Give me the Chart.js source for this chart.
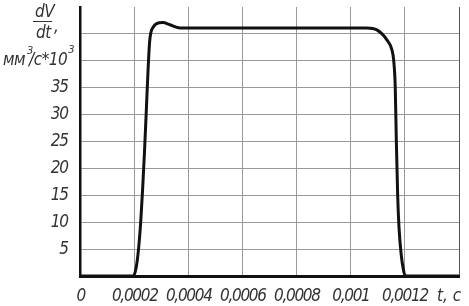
<!DOCTYPE html>
<html>
<head>
<meta charset="utf-8">
<script src="https://cdn.jsdelivr.net/npm/chart.js@4/dist/chart.umd.min.js"></script>
<style>
  html, body { margin: 0; padding: 0; background: #fff; }
  #wrap { width: 469px; height: 306px; }
</style>
</head>
<body>
<div id="wrap"><canvas id="flowChart"></canvas></div>
<script>
const FONT = "'Liberation Sans Narrow', 'DejaVu Sans Condensed', sans-serif"
const SPACING = '-1.3px'

// время, с
const timeS = [0, 0.000195, 0.000205, 0.000214, 0.000222, 0.000229, 0.000236, 0.000243,
  0.000249, 0.000255, 0.00026, 0.000269, 0.000281, 0.000304, 0.00033, 0.000368, 0.0006, 0.0008,
  0.001059, 0.001096, 0.001133, 0.001152, 0.001158, 0.001164, 0.001168, 0.001173, 0.001178,
  0.001186, 0.001195, 0.001201, 0.0013, 0.0014]
// dV/dt, мм3/с*10^3
const flowRate = [0, 0, 1.5, 5, 10, 16, 23, 31,
  38, 43.5, 45.3, 46.3, 46.9, 47.1, 46.7, 46.1, 46.1, 46.1,
  46.1, 45.75, 43.9, 42, 40.2, 35.2, 25.3, 15, 9,
  4, 1, 0, 0, 0]

const yTicksShown = [5, 10, 15, 20, 25, 30, 35]
const xTickLabels = ['0', '0,0002', '0,0004', '0,0006', '0,0008', '0,001', '0,0012', '']

// узкий шрифт: поджимаем межбуквенный интервал
const narrowText = {
  id: 'narrowText',
  beforeDraw(chart) { chart.ctx.letterSpacing = SPACING }
}

const axisTitle = {
  id: 'axisTitle',
  afterDraw(chart) {
    const c = chart.ctx
    c.save()
    c.letterSpacing = '-0.5px'
    c.fillStyle = '#333'
    c.strokeStyle = '#333'
    c.textBaseline = 'alphabetic'
    c.textAlign = 'left'
    const big = 'italic 17px ' + FONT
    const small = 'italic 11px ' + FONT
    c.font = big
    c.fillText('dV', 35, 17)
    c.fillText('dt', 36, 38)
    c.fillText(',', 54, 32)
    c.beginPath()
    c.lineWidth = 1
    c.moveTo(33, 21.5)
    c.lineTo(52, 21.5)
    c.stroke()
    // мм³/с*10³
    let x = 3
    c.fillText('мм', x, 65)
    x += c.measureText('мм').width + 2
    c.font = small
    c.fillText('3', x, 54)
    x += 2
    c.font = big
    c.fillText('/с*10', x, 65)
    x += c.measureText('/с*10').width + 1
    c.font = small
    c.fillText('3', x, 53)
    // подпись оси времени
    c.font = big
    c.letterSpacing = '0px'
    c.fillText('t, c', 437, 301)
    c.restore()
  }
}

const ctx = document.getElementById('flowChart').getContext('2d')

new Chart(ctx, {
  type: 'line',
  data: {
    datasets: [{
      data: timeS.map((t, i) => ({ x: t, y: flowRate[i] })),
      borderColor: '#111',
      borderWidth: 3,
      pointRadius: 0,
      fill: false,
      cubicInterpolationMode: 'monotone'
    }]
  },
  options: {
    responsive: true,
    maintainAspectRatio: false,
    animation: false,
    layout: { padding: { top: 7, right: 10, left: 0, bottom: 0 } },
    plugins: { legend: { display: false }, tooltip: { enabled: false } },
    scales: {
      x: {
        type: 'linear',
        min: 0,
        max: 0.0014,
        afterFit: (s) => { s.height = 30; s.paddingLeft = 0; s.paddingRight = 0 },
        grid: {
          color: (c) => c.index === 7 ? '#555' : '#999',
          lineWidth: 1,
          drawTicks: false
        },
        border: { color: '#111', width: 3 },
        ticks: {
          stepSize: 0.0002,
          color: '#333',
          padding: 10,
          maxRotation: 0,
          autoSkip: false,
          font: { family: FONT, size: 17, style: 'italic' },
          callback: (v, i) => xTickLabels[i]
        }
      },
      y: {
        min: 0,
        max: 50,
        afterFit: (s) => { s.width = 80.7; s.paddingTop = 0; s.paddingBottom = 0 },
        grid: {
          color: (c) => c.tick && c.tick.value === 50 ? 'rgba(0,0,0,0)' : '#999',
          lineWidth: 1,
          drawTicks: false
        },
        border: { color: '#111', width: 2.5 },
        ticks: {
          stepSize: 5,
          color: '#333',
          padding: 13,
          font: { family: FONT, size: 17, style: 'italic' },
          callback: (v) => yTicksShown.includes(v) ? String(v) : ''
        }
      }
    }
  },
  plugins: [narrowText, axisTitle]
})
</script>
</body>
</html>
